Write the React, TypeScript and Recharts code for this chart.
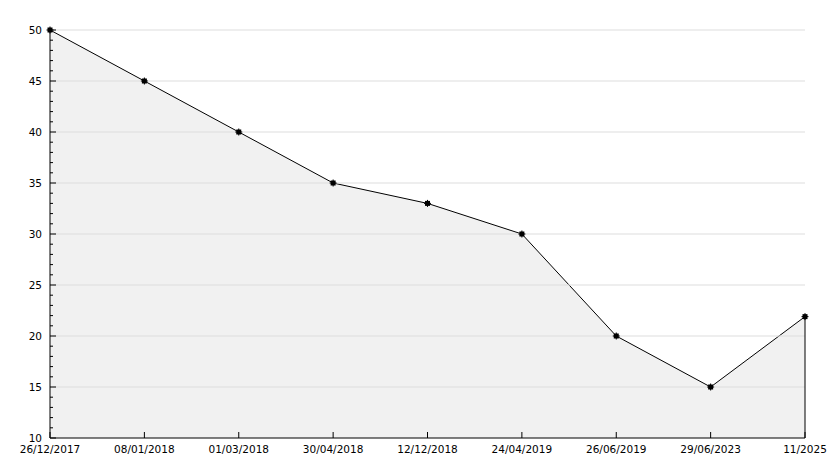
import React from "react";
import { AreaChart, Area, XAxis, YAxis, ReferenceLine } from "recharts";

const categories = [
  "26/12/2017",
  "08/01/2018",
  "01/03/2018",
  "30/04/2018",
  "12/12/2018",
  "24/04/2019",
  "26/06/2019",
  "29/06/2023",
  "11/2025",
];
const values = [50, 45, 40, 35, 33, 30, 20, 15, 21.9];
const majorTicks = [10, 15, 20, 25, 30, 35, 40, 45, 50];

const data = categories.map((c, i) => ({ date: c, value: values[i] }));

const allYTicks: number[] = [];
for (let i = 0; i < majorTicks.length - 1; i++) {
  for (let v = majorTicks[i]; v < majorTicks[i + 1]; v++) allYTicks.push(v);
}
allYTicks.push(majorTicks[majorTicks.length - 1]);

const FONT = "DejaVu Sans";

const YTick = (props: any) => {
  const { x, y, payload } = props;
  const v = payload.value;
  const major = majorTicks.includes(v);
  const ax = x + 8;
  return (
    <g>
      <line x1={ax} x2={ax + (major ? 6 : 3)} y1={y} y2={y} stroke="#000" strokeWidth={1} />
      {major && (
        <text x={x} y={y} textAnchor="end" dominantBaseline="central" fontFamily={FONT} fontSize={10.5} fill="#000">
          {v}
        </text>
      )}
    </g>
  );
};

const XTick = (props: any) => {
  const { x, y, payload } = props;
  return (
    <g>
      <line x1={x} x2={x} y1={y} y2={y - 6} stroke="#000" strokeWidth={1} />
      <text x={x} y={y + 11} textAnchor="middle" dominantBaseline="central" fontFamily={FONT} fontSize={10.5} fill="#000">
        {payload.value}
      </text>
    </g>
  );
};

const StarDot = (props: any) => {
  const { cx, cy } = props;
  if (cx == null || cy == null) return null;
  return (
    <g>
      <rect x={cx - 2.5} y={cy - 2.5} width={5} height={5} fill="#000" />
      <path
        d={`M${cx - 3.5},${cy}H${cx + 3.5}M${cx},${cy - 3.5}V${cy + 3.5}`}
        stroke="#000"
        strokeWidth={1}
      />
    </g>
  );
};

export default function App() {
  const last = data[data.length - 1];
  return (
    <div style={{ position: "absolute", left: 0, top: 0, background: "#fff" }}>
      <AreaChart
        width={834}
        height={468}
        data={data}
        margin={{ top: 30, right: 29, bottom: 0, left: 0 }}
      >
        {majorTicks.slice(1).map((t) => (
          <ReferenceLine key={t} y={t} stroke="#dddddd" strokeWidth={1} />
        ))}
        <XAxis
          dataKey="date"
          interval={0}
          height={30}
          tickLine={false}
          tickSize={0}
          tickMargin={0}
          tick={<XTick />}
          axisLine={{ stroke: "#000", strokeWidth: 1 }}
        />
        <YAxis
          domain={[10, 50]}
          ticks={allYTicks}
          interval={0}
          width={50}
          tickLine={false}
          tickSize={0}
          tickMargin={8}
          tick={<YTick />}
          axisLine={{ stroke: "#000", strokeWidth: 1 }}
        />
        <ReferenceLine
          segment={[
            { x: last.date, y: 10 },
            { x: last.date, y: last.value },
          ]}
          stroke="#000"
          strokeWidth={1}
        />
        <Area
          type="linear"
          dataKey="value"
          stroke="#000"
          strokeWidth={1}
          fill="#f1f1f1"
          fillOpacity={1}
          baseValue={10}
          dot={<StarDot />}
          activeDot={false}
          isAnimationActive={false}
        />
      </AreaChart>
    </div>
  );
}
